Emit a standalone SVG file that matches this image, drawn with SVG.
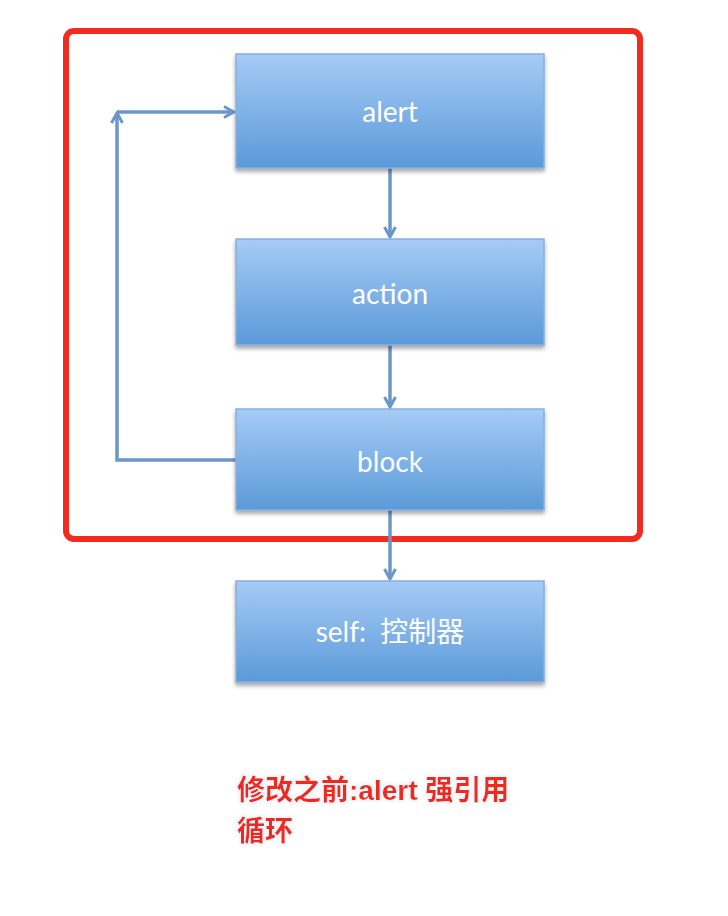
<svg xmlns="http://www.w3.org/2000/svg" width="728" height="916" viewBox="0 0 728 916">
<defs>
<linearGradient id="g" x1="0" y1="0" x2="0" y2="1">
<stop offset="0" stop-color="#a6cbf6"/>
<stop offset="1" stop-color="#5b9ad8"/>
</linearGradient>
<filter id="sh" x="-10%" y="-10%" width="120%" height="130%">
<feGaussianBlur in="SourceAlpha" stdDeviation="2"/>
<feOffset dx="0" dy="3"/>
<feComponentTransfer><feFuncA type="linear" slope="0.35"/></feComponentTransfer>
<feMerge><feMergeNode/><feMergeNode in="SourceGraphic"/></feMerge>
</filter>
<filter id="glow" x="-10%" y="-20%" width="120%" height="140%">
<feMorphology in="SourceAlpha" operator="dilate" radius="2" result="d"/>
<feGaussianBlur in="d" stdDeviation="1.5" result="b"/>
<feFlood flood-color="#eef4fa"/>
<feComposite in2="b" operator="in" result="w"/>
<feMerge><feMergeNode in="w"/><feMergeNode in="SourceGraphic"/></feMerge>
</filter>
<marker id="arr" viewBox="0 0 14 14" refX="12" refY="7" markerWidth="14" markerHeight="14" markerUnits="userSpaceOnUse" orient="auto">
<path d="M2,1.5 L12,7 L2,12.5" fill="none" stroke="#6b96c8" stroke-width="3"/>
</marker>
</defs>
<style>
.box{fill:url(#g);stroke:#86b0e0;stroke-width:1.5;filter:url(#sh)}
.lbl{fill:#ffffff;font-family:"Lato","Open Sans","Noto Sans CJK SC",sans-serif;font-size:28px;text-anchor:middle}
.con{fill:none;stroke:#6b96c8;stroke-width:3.5;marker-end:url(#arr)}
.note{fill:#ee2a1e;font-family:"Liberation Sans","Noto Sans CJK SC",sans-serif;font-weight:bold;font-size:28px;filter:url(#glow)}
</style>
<rect x="66" y="31" width="574" height="508" rx="8" fill="none" stroke="#f42a1f" stroke-width="6"/>
<g id="connectors">
<path class="con" d="M390,168 V237"/>
<path class="con" d="M390,345 V407"/>
<path class="con" d="M390,510 V579"/>
<path class="con" d="M236,460 H117 V113"/>
<path class="con" d="M117,112 H234"/>
</g>
<g id="alert"><rect class="box" x="236" y="54" width="308" height="114"/><text class="lbl" x="390" y="122">alert</text></g>
<g id="action"><rect class="box" x="236" y="239" width="308" height="106"/><text class="lbl" x="390" y="304">action</text></g>
<g id="block"><rect class="box" x="236" y="409" width="308" height="101"/><text class="lbl" x="390" y="472">block</text></g>
<g id="self"><rect class="box" x="236" y="581" width="308" height="101"/><text class="lbl" x="390" y="642" xml:space="preserve">self:  控制器</text></g>
<g id="note">
<text class="note" x="237" y="800">修改之前:alert 强引用</text>
<text class="note" x="237" y="841">循环</text>
</g>
</svg>
